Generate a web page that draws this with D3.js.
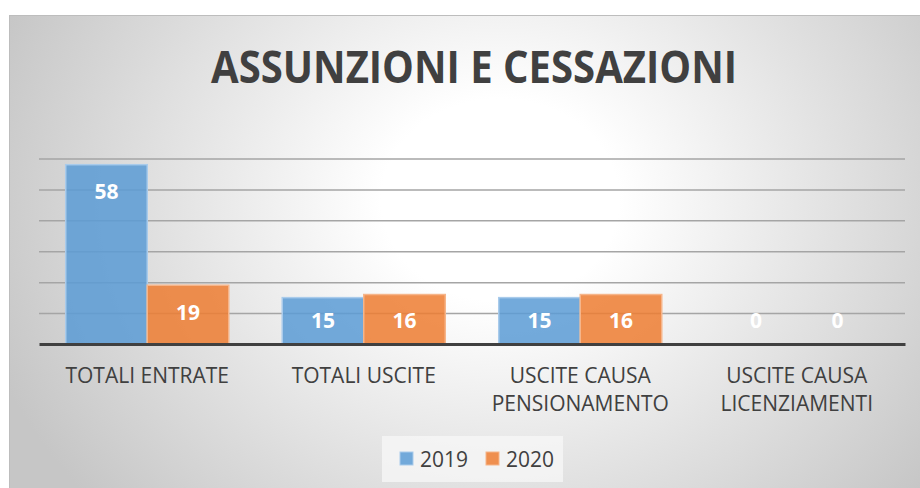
<!DOCTYPE html>
<html lang="it">
<head>
  <meta charset="UTF-8">
  <title>Assunzioni e cessazioni</title>
  <script src="https://d3js.org/d3.v7.min.js"></script>
  <style>
    body { margin: 0; background: #fff; font-family: "Open Sans", sans-serif; }
    svg text { font-family: "Open Sans", sans-serif; }
  </style>
</head>
<body>
  <svg id="chart" width="920" height="488"></svg>

  <script>
    const categories = [
      ["TOTALI ENTRATE"],
      ["TOTALI USCITE"],
      ["USCITE CAUSA", "PENSIONAMENTO"],
      ["USCITE CAUSA", "LICENZIAMENTI"]
    ];
    const seriesNames = ["2019", "2020"];
    const values2019 = [58, 15, 15, 0];
    const values2020 = [19, 16, 16, 0];
    const yTicks = [10, 20, 30, 40, 50, 60];
    const colors = ["#5B9BD5", "#ED7D31"];
    const strokes = ["#a9cbeb", "#f6b58a"];

    const svg = d3.select("#chart");
    const width = +svg.attr("width");
    const height = +svg.attr("height");

    // chart area background with radial gradient
    const defs = svg.append("defs");
    const grad = defs.append("radialGradient")
      .attr("id", "bg")
      .attr("gradientUnits", "userSpaceOnUse")
      .attr("cx", 500).attr("cy", 200).attr("r", 540)
      .attr("gradientTransform", "translate(500,200) scale(1,0.85) translate(-500,-200)");
    grad.append("stop").attr("offset", "0").attr("stop-color", "#ffffff");
    grad.append("stop").attr("offset", "0.22").attr("stop-color", "#ffffff");
    grad.append("stop").attr("offset", "1").attr("stop-color", "#c6c6c6");

    svg.append("rect")
      .attr("x", 9.5).attr("y", 15.5)
      .attr("width", width).attr("height", height)
      .attr("fill", "url(#bg)")
      .attr("stroke", "#bdbdbd")
      .attr("stroke-width", 1);

    svg.append("text")
      .attr("x", 474)
      .attr("y", 83)
      .attr("text-anchor", "middle")
      .attr("font-size", 45)
      .attr("font-weight", "bold")
      .attr("fill", "#404040")
      .attr("textLength", 526)
      .attr("lengthAdjust", "spacingAndGlyphs")
      .text("ASSUNZIONI E CESSAZIONI");

    const plot = { left: 39, right: 905, top: 158.5, bottom: 344 };

    const x0 = d3.scaleBand()
      .domain(d3.range(categories.length))
      .range([plot.left, plot.right])
      .paddingInner(0.247)
      .paddingOuter(0.1235);

    const x1 = d3.scaleBand()
      .domain(seriesNames)
      .range([0, x0.bandwidth()]);

    const y = d3.scaleLinear()
      .domain([0, 60])
      .range([plot.bottom, plot.top]);

    // gridlines
    svg.append("g")
      .attr("transform", "translate(" + plot.left + ",0)")
      .call(d3.axisLeft(y).tickValues(yTicks).tickSize(-(plot.right - plot.left)).tickFormat(""))
      .call(g => g.select(".domain").remove())
      .call(g => g.selectAll("line").attr("stroke", "#a5a5a5").attr("stroke-width", 1.5));

    const data = categories.map((c, i) => ({
      idx: i,
      values: [values2019[i], values2020[i]]
    }));

    const groups = svg.append("g").selectAll("g")
      .data(data)
      .enter().append("g")
      .attr("transform", d => "translate(" + x0(d.idx) + ",0)");

    groups.selectAll("rect")
      .data(d => d.values.map((v, j) => ({ v: v, s: seriesNames[j], j: j })))
      .enter().append("rect")
      .filter(d => d.v > 0)
      .attr("x", d => x1(d.s))
      .attr("y", d => y(d.v))
      .attr("width", x1.bandwidth())
      .attr("height", d => plot.bottom - y(d.v))
      .attr("fill", d => colors[d.j])
      .attr("fill-opacity", 0.85)
      .attr("stroke", d => strokes[d.j])
      .attr("stroke-width", 1.5);

    groups.selectAll("text")
      .data(d => d.values.map((v, j) => ({ v: v, s: seriesNames[j], j: j })))
      .enter().append("text")
      .attr("x", d => x1(d.s) + x1.bandwidth() / 2)
      .attr("y", d => Math.min(y(d.v) + 27, plot.bottom - 24))
      .attr("dy", "0.36em")
      .attr("text-anchor", "middle")
      .attr("font-size", 21)
      .attr("font-weight", "bold")
      .attr("fill", "#ffffff")
      .text(d => d.v);

    // baseline axis
    svg.append("g")
      .attr("transform", "translate(0," + plot.bottom + ")")
      .call(d3.axisBottom(x0).tickSize(0).tickFormat(""))
      .call(g => g.select(".domain").attr("stroke", "#404040").attr("stroke-width", 3));

    // category labels
    const labels = svg.append("g").selectAll("text")
      .data(data)
      .enter().append("text")
      .attr("x", d => x0(d.idx) + x0.bandwidth() / 2)
      .attr("y", 383)
      .attr("text-anchor", "middle")
      .attr("font-size", 21)
      .attr("fill", "#404040");

    labels.selectAll("tspan")
      .data(d => categories[d.idx])
      .enter().append("tspan")
      .attr("x", function () { return d3.select(this.parentNode).attr("x"); })
      .attr("dy", (d, i) => i === 0 ? 0 : 28)
      .text(d => d);

    // legend
    svg.append("rect")
      .attr("x", 382).attr("y", 436)
      .attr("width", 181).attr("height", 46)
      .attr("fill", "#f6f6f6")
      .attr("fill-opacity", 0.8);

    const legend = svg.append("g").selectAll("g")
      .data(seriesNames)
      .enter().append("g")
      .attr("transform", (d, i) => "translate(" + (400 + i * 86) + ",452)");

    legend.append("rect")
      .attr("width", 13).attr("height", 13)
      .attr("fill", (d, i) => colors[i])
      .attr("fill-opacity", 0.85)
      .attr("stroke", (d, i) => strokes[i])
      .attr("stroke-width", 1);

    legend.append("text")
      .attr("x", 20)
      .attr("y", 14.5)
      .attr("font-size", 21)
      .attr("fill", "#404040")
      .text(d => d);
  </script>
</body>
</html>
